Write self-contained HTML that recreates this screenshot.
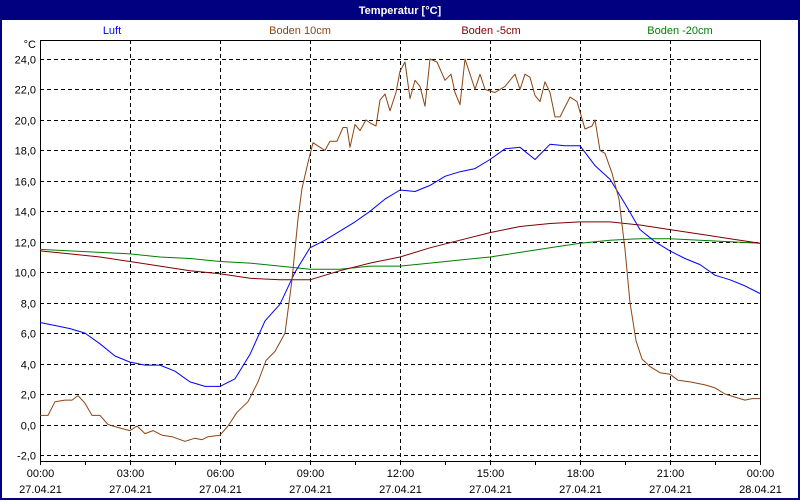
<!DOCTYPE html>
<html><head><meta charset="utf-8"><style>
html,body{margin:0;padding:0;background:#fff}
svg{display:block;font-family:"Liberation Sans",sans-serif}
</style></head><body>
<svg id="chart" width="800" height="500" viewBox="0 0 800 500">
<rect x="0" y="0" width="800" height="500" fill="#fff"/>
<rect x="1" y="1" width="798" height="498" fill="none" stroke="#000080" stroke-width="2"/>
<rect x="0" y="0" width="800" height="20" fill="#000080"/>
<text x="400" y="14" text-anchor="middle" fill="#fff" font-size="11" font-weight="bold">Temperatur [°C]</text>
<text x="112" y="34" text-anchor="middle" fill="#0000ff" font-size="11">Luft</text>
<text x="300" y="34" text-anchor="middle" fill="#8b4513" font-size="11">Boden 10cm</text>
<text x="491" y="34" text-anchor="middle" fill="#800000" font-size="11">Boden -5cm</text>
<text x="680" y="34" text-anchor="middle" fill="#008000" font-size="11">Boden -20cm</text>
<text x="36" y="48" text-anchor="end" font-size="11" fill="#000">°C</text>
<g id="grid"></g>
<g id="axes"></g>
<g id="series"></g>
</svg>
<script>
const yTicks=[24,22,20,18,16,14,12,10,8,6,4,2,0,-2];
const yTickLabels=["24,0","22,0","20,0","18,0","16,0","14,0","12,0","10,0","8,0","6,0","4,0","2,0","0,0","-2,0"];
const xTickHours=[0,3,6,9,12,15,18,21,24];
const xTickTimes=["00:00","03:00","06:00","09:00","12:00","15:00","18:00","21:00","00:00"];
const xTickDates=["27.04.21","27.04.21","27.04.21","27.04.21","27.04.21","27.04.21","27.04.21","27.04.21","28.04.21"];
const hourlyTimes=[0,1,2,3,4,5,6,7,8,9,10,11,12,13,14,15,16,17,18,19,20,21,22,23,24];
const halfHourTimes=[0,0.5,1,1.5,2,2.5,3,3.5,4,4.5,5,5.5,6,6.5,7,7.5,8,8.5,9,9.5,10,10.5,11,11.5,12,12.5,13,13.5,14,14.5,15,15.5,16,16.5,17,17.5,18,18.5,19,19.5,20,20.5,21,21.5,22,22.5,23,23.5,24];
const luftValues=[6.7,6.5,6.3,6.0,5.3,4.5,4.1,3.9,3.9,3.5,2.8,2.5,2.5,3.0,4.6,6.8,7.9,10.0,11.6,12.1,12.7,13.3,14.0,14.8,15.4,15.3,15.7,16.3,16.6,16.8,17.4,18.1,18.2,17.4,18.4,18.3,18.3,17.0,16.1,14.5,12.8,12.0,11.4,10.9,10.5,9.8,9.5,9.1,8.6];
const boden10Minutes=[0,16,30,50,64,76,90,104,120,136,156,180,194,210,226,244,264,290,310,324,336,360,376,394,416,436,452,470,490,504,516,524,536,546,560,570,580,594,606,614,620,630,640,652,660,672,680,690,700,712,720,730,740,750,760,770,780,794,810,822,830,840,850,870,880,890,900,910,930,950,960,970,980,990,1000,1010,1020,1030,1040,1060,1074,1090,1104,1110,1120,1130,1144,1158,1170,1180,1192,1204,1220,1240,1260,1276,1300,1330,1350,1370,1390,1410,1424,1440];
const boden10Values=[0.6,0.6,1.5,1.6,1.6,1.9,1.4,0.6,0.6,0.0,-0.2,-0.4,-0.1,-0.6,-0.4,-0.7,-0.8,-1.1,-0.9,-1.0,-0.8,-0.7,-0.1,0.8,1.5,2.8,4.2,4.8,6.0,9.5,13.5,15.5,17.2,18.5,18.2,18.0,18.6,18.6,19.5,19.5,18.2,19.7,19.3,20.0,19.8,19.6,21.3,21.7,20.6,21.8,23.2,23.8,21.4,22.6,22.2,20.9,24.0,23.8,22.6,23.0,21.8,21.0,24.0,22.0,23.0,22.0,21.9,21.8,22.2,23.0,22.0,23.0,22.8,21.6,21.2,22.5,21.8,20.2,20.2,21.5,21.2,19.4,19.6,20.0,18.0,17.8,16.5,14.8,11.5,8.0,5.5,4.3,3.8,3.4,3.3,2.9,2.8,2.6,2.4,2.0,1.8,1.6,1.7,1.7];
const boden5Values=[11.4,11.2,11.0,10.7,10.4,10.1,9.9,9.6,9.5,9.5,10.1,10.6,11.0,11.6,12.1,12.6,13.0,13.2,13.3,13.3,13.1,12.8,12.5,12.2,11.9];
const boden20Values=[11.5,11.4,11.3,11.2,11.0,10.9,10.7,10.6,10.4,10.2,10.2,10.4,10.4,10.6,10.8,11.0,11.3,11.6,11.9,12.1,12.2,12.2,12.1,12.0,11.9];

const NS='http://www.w3.org/2000/svg';
const X0=40,X1=760,Y0=40,Y1=461;
function xScale(h){return X0+(h/24)*(X1-X0);}
function yScale(v){return 424.5-v*15.23;}
function mk(tag,attrs,parent){const e=document.createElementNS(NS,tag);for(const k in attrs)e.setAttribute(k,attrs[k]);parent.appendChild(e);return e;}
const grid=document.getElementById('grid'),axes=document.getElementById('axes'),series=document.getElementById('series');

yTicks.forEach((v,i)=>{
  const y=Math.round(yScale(v))+0.5;
  const l=mk('line',{x1:X0,x2:X1,y1:y,y2:y,stroke:'#000','stroke-dasharray':'4,3','stroke-width':1},grid);
  
  
  const t=mk('text',{x:36,y:y+4,'text-anchor':'end','font-size':11,fill:'#000'},axes);
  t.textContent=yTickLabels[i];
  
  
});
xTickHours.forEach((h,i)=>{
  const x=Math.round(xScale(h))+0.5;
  if(i>0&&i<xTickHours.length-1){
    const l=mk('line',{x1:x,x2:x,y1:Y0,y2:Y1,stroke:'#000','stroke-dasharray':'4,3','stroke-width':1},grid);
    
    
  }
  const t1=mk('text',{x:x,y:477,'text-anchor':'middle','font-size':11,fill:'#000'},axes);
  t1.textContent=xTickTimes[i];
  
  
  const t2=mk('text',{x:x,y:493,'text-anchor':'middle','font-size':11,fill:'#000'},axes);
  t2.textContent=xTickDates[i];
  
  
});
for(let h=0;h<=24;h+=1.5){
  const x=Math.round(xScale(h))+0.5;
  const l=mk('line',{x1:x,x2:x,y1:Y1,y2:Y1+4,stroke:'#000'},axes);
  
  
}
const frame=mk('rect',{x:X0+0.5,y:Y0+0.5,width:X1-X0,height:Y1-Y0,fill:'none',stroke:'#000','stroke-width':1},axes);



function drawLine(times,vals,color,name){
  const d=vals.map((v,i)=>(i?'L':'M')+xScale(times[i]).toFixed(1)+','+yScale(v).toFixed(1)).join('');
  const p=mk('path',{d:d,fill:'none',stroke:color,'stroke-width':1,'stroke-linejoin':'round'},series);
  
  
}
drawLine(hourlyTimes,boden20Values,'#008000','line-boden-20cm');
drawLine(hourlyTimes,boden5Values,'#800000','line-boden-5cm');
drawLine(halfHourTimes,luftValues,'#0000ff','line-luft');
drawLine(boden10Minutes.map(m=>m/60),boden10Values,'#8b4513','line-boden-10cm');
</script>
</body></html>
